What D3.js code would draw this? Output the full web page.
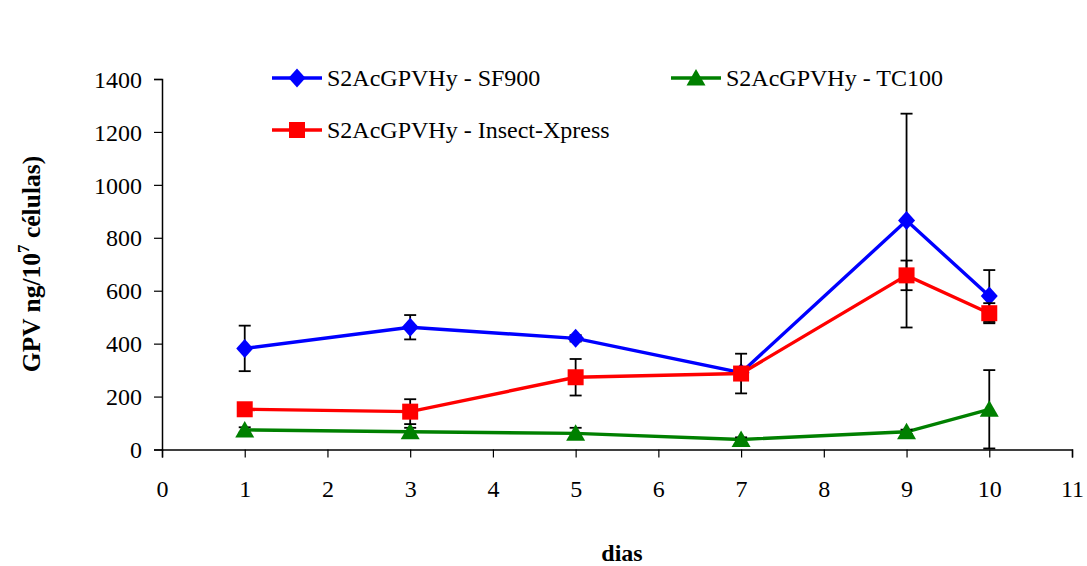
<!DOCTYPE html>
<html>
<head>
<meta charset="utf-8">
<script src="https://cdn.jsdelivr.net/npm/d3@7"></script>
<style>
  body { margin: 0; background: #fff; }
  svg { display: block; font-family: "Liberation Serif", "Times New Roman", serif; }
</style>
</head>
<body>
<svg id="chart" width="1087" height="566"></svg>
<script>
// ---- data ----
const days = [1, 3, 5, 7, 9, 10];
const xTicks = [0, 1, 2, 3, 4, 5, 6, 7, 8, 9, 10, 11];
const yTicks = [0, 200, 400, 600, 800, 1000, 1200, 1400];

const sf900Values = [382, 462, 420, 290, 865, 580];
const sf900Errors = [86, 46, 12, 10, 404, 98];

const tc100Values = [74, 67, 61, 38, 67, 152];
const tc100Errors = [10, 15, 21, 8, 8, 148];

const insectValues = [152, 143, 273, 287, 658, 515];
const insectErrors = [10, 47, 69, 75, 56, 38];

const seriesNames = ["S2AcGPVHy - SF900", "S2AcGPVHy - TC100", "S2AcGPVHy - Insect-Xpress"];
const seriesColors = ["#0000FF", "#008000", "#FF0000"];
const seriesShapes = ["diamond", "triangle", "square"];

const series = [
  { name: seriesNames[0], color: seriesColors[0], shape: seriesShapes[0], values: sf900Values, errors: sf900Errors },
  { name: seriesNames[1], color: seriesColors[1], shape: seriesShapes[1], values: tc100Values, errors: tc100Errors },
  { name: seriesNames[2], color: seriesColors[2], shape: seriesShapes[2], values: insectValues, errors: insectErrors }
];

(function () {
// ---- layout ----
const svg = d3.select("#chart");
const pLeft = 162, pRight = 1072, pTop = 79, pBottom = 449.5;

const x = d3.scaleLinear().domain([0, 11]).range([pLeft, pRight]);
const y = d3.scaleLinear().domain([0, 1400]).range([pBottom, pTop]);

function markerPath(shape) {
  if (shape === "diamond") return "M0,-9.5L8.5,0L0,9.5L-8.5,0Z";
  if (shape === "triangle") return "M0,-9L9.5,7.5L-9.5,7.5Z";
  return "M-8,-8L8,-8L8,8L-8,8Z";
}

// ---- axes ----
const xAxis = d3.axisBottom(x).tickValues(xTicks).tickSize(8).tickFormat(d3.format("d"));
const gx = svg.append("g").attr("transform", `translate(0,${pBottom})`).call(xAxis);
gx.attr("font-family", "Liberation Serif");
gx.select(".domain").attr("stroke", "#000").attr("stroke-width", 1.5);
gx.selectAll(".tick line").attr("stroke", "#000").attr("stroke-width", 1.2);
gx.selectAll(".tick text").attr("font-size", 24).attr("font-family", "Liberation Serif")
  .attr("fill", "#000").attr("dy", null).attr("y", 47.5);

const yAxis = d3.axisLeft(y).tickValues(yTicks).tickSize(8).tickFormat(d3.format("d"));
const gy = svg.append("g").attr("transform", `translate(${pLeft},0)`).call(yAxis);
gy.attr("font-family", "Liberation Serif");
gy.select(".domain").attr("stroke", "#000").attr("stroke-width", 1.5);
gy.selectAll(".tick line").attr("stroke", "#000").attr("stroke-width", 1.2);
gy.selectAll(".tick text").attr("font-size", 24).attr("font-family", "Liberation Serif")
  .attr("fill", "#000").attr("x", -20).attr("dy", "0.34em");

// ---- axis titles ----
svg.append("text")
  .attr("x", 622).attr("y", 561)
  .attr("text-anchor", "middle")
  .attr("font-size", 24).attr("font-weight", "bold")
  .text("dias");

const yt = svg.append("text")
  .attr("transform", "translate(40,264) rotate(-90)")
  .attr("text-anchor", "middle")
  .attr("font-size", 25.5).attr("font-weight", "bold");
yt.append("tspan").text("GPV ng/10");
yt.append("tspan").attr("dy", -11).attr("font-size", 17).text("7");
yt.append("tspan").attr("dy", 11).text(" células)");

// ---- series ----
const line = d3.line().x(d => x(d.day)).y(d => y(d.v));

series.forEach(s => {
  const pts = days.map((d, i) => ({ day: d, v: s.values[i], e: s.errors[i] }));
  const g = svg.append("g");
  g.append("path").datum(pts)
    .attr("d", line).attr("fill", "none")
    .attr("stroke", s.color).attr("stroke-width", 3.4);

  const eb = g.selectAll(".eb").data(pts).enter().append("g");
  eb.append("line")
    .attr("x1", d => x(d.day)).attr("x2", d => x(d.day))
    .attr("y1", d => y(d.v + d.e)).attr("y2", d => y(d.v - d.e))
    .attr("stroke", "#000").attr("stroke-width", 1.8);
  eb.append("line")
    .attr("x1", d => x(d.day) - 6).attr("x2", d => x(d.day) + 6)
    .attr("y1", d => y(d.v + d.e)).attr("y2", d => y(d.v + d.e))
    .attr("stroke", "#000").attr("stroke-width", 1.8);
  eb.append("line")
    .attr("x1", d => x(d.day) - 6).attr("x2", d => x(d.day) + 6)
    .attr("y1", d => y(d.v - d.e)).attr("y2", d => y(d.v - d.e))
    .attr("stroke", "#000").attr("stroke-width", 1.8);

  g.selectAll(".mk").data(pts).enter().append("path")
    .attr("d", markerPath(s.shape))
    .attr("transform", d => `translate(${x(d.day)},${y(d.v)})`)
    .attr("fill", s.color);
});

// ---- legend ----
const legendItems = [
  { s: series[0], x0: 272, yc: 78 },
  { s: series[1], x0: 671, yc: 78 },
  { s: series[2], x0: 272, yc: 130 }
];
legendItems.forEach(it => {
  const g = svg.append("g").attr("transform", `translate(${it.x0},${it.yc})`);
  g.append("line").attr("x1", 0).attr("x2", 50).attr("y1", 0).attr("y2", 0)
    .attr("stroke", it.s.color).attr("stroke-width", 3.4);
  g.append("path").attr("d", markerPath(it.s.shape))
    .attr("transform", "translate(25,0)").attr("fill", it.s.color);
  g.append("text").attr("x", 55).attr("y", 8)
    .attr("font-size", 24).attr("fill", "#000").text(it.s.name);
});
})();
</script>
</body>
</html>
